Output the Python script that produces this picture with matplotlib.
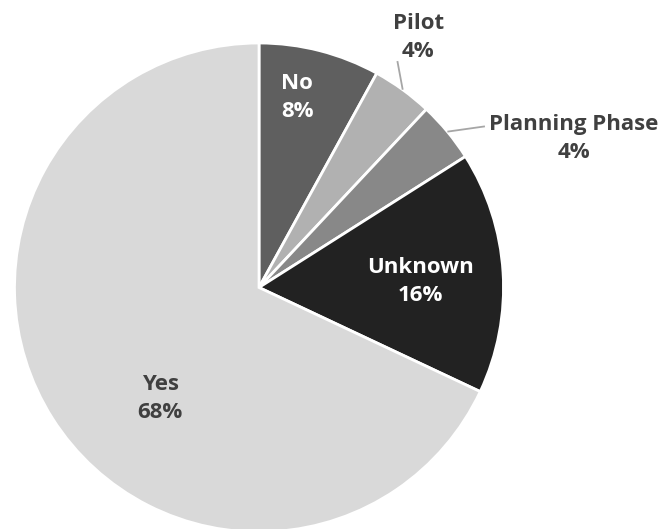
import matplotlib
matplotlib.use("Agg")
import matplotlib.pyplot as plt
import numpy as np

# Survey responses
categories = ["No", "Pilot", "Planning Phase", "Unknown", "Yes"]
values = [8, 4, 4, 16, 68]
colors = ["#5f5f5f", "#b1b1b1", "#888888", "#222222", "#d9d9d9"]
text_colors = ["white", "#404040", "#404040", "white", "#404040"]

# Label centres in pie units (radius = 1); None means no leader line
label_pos = [(0.156, 0.778), (0.651, 1.022), (1.287, 0.609), (0.659, 0.026), (-0.404, -0.455)]
leader_end = [None, (0.566, 0.926), (0.924, 0.659), None, None]

W, H = 659, 529
fig = plt.figure(figsize=(W / 100, H / 100), dpi=100)
R = 244.5
cx, cy = 259, 287.5
ax = fig.add_axes([(cx - R) / W, (H - cy - R) / H, 2 * R / W, 2 * R / H])

wedges, _ = ax.pie(values, colors=colors, startangle=90, counterclock=False,
                   radius=1.0, wedgeprops=dict(edgecolor="white", linewidth=2.0))
for w in wedges:
    w.set_clip_on(False)
ax.set_xlim(-1, 1)
ax.set_ylim(-1, 1)
ax.set_aspect("equal")
ax.axis("off")

total = sum(values)
cum = np.cumsum([0] + values[:-1])
for i, (cat, v) in enumerate(zip(categories, values)):
    x, y = label_pos[i]
    pct = f"{round(100 * v / total)}%"
    ax.text(x, y, f"{cat}\n{pct}", ha="center", va="center", fontsize=16.0,
            fontweight="bold", family="Open Sans", color=text_colors[i],
            linespacing=1.45, clip_on=False)
    if leader_end[i] is not None:
        mid = np.deg2rad(90 - 360 * (cum[i] + v / 2) / total)
        sx, sy = np.cos(mid), np.sin(mid)
        ex, ey = leader_end[i]
        ax.plot([sx, ex], [sy, ey], color="#a6a6a6", lw=1.3, clip_on=False,
                solid_capstyle="butt")

fig.savefig("out.png", dpi=100)
